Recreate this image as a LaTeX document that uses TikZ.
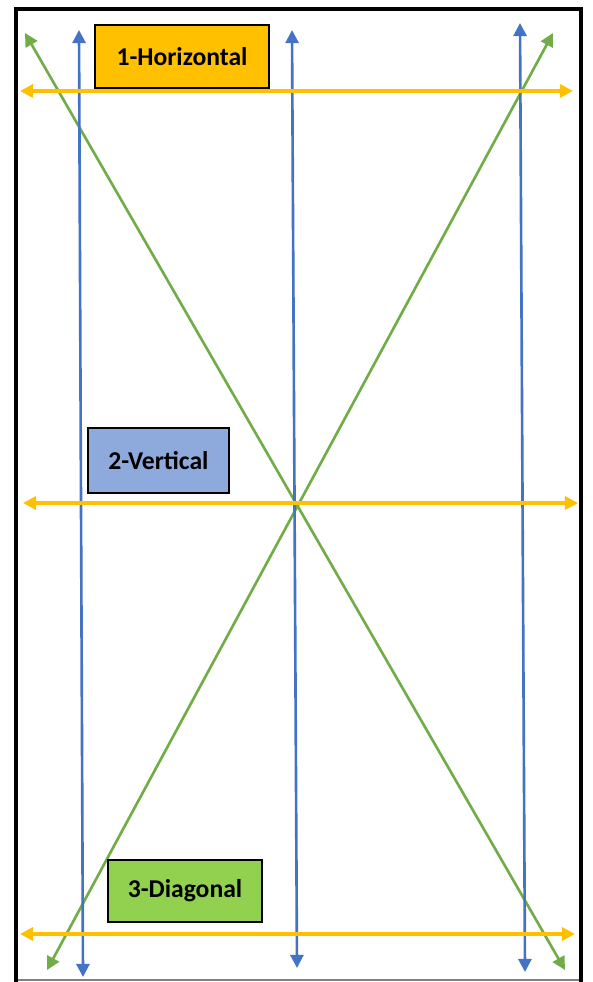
\documentclass[tikz,border=0pt]{standalone}
\usepackage{fontspec}
\setmainfont{Carlito}
\usetikzlibrary{arrows.meta}
\definecolor{hcol}{HTML}{FFC000}
\definecolor{vcol}{HTML}{4472C4}
\definecolor{dcol}{HTML}{70AD47}
\definecolor{vbox}{HTML}{8EA9DB}
\definecolor{dbox}{HTML}{92D050}
\tikzset{>={Triangle[length=7.5pt,width=7.5pt]},
  hline/.style={draw=hcol,line width=1.9pt,<->},
  vline/.style={draw=vcol,line width=1.5pt,<->},
  dline/.style={draw=dcol,line width=1.5pt,<->},
  tag/.style={draw=black,fill=#1,line width=0.6pt,inner sep=0pt,font=\fontsize{14.6}{16}\selectfont\bfseries}}

\begin{document}
\begin{tikzpicture}[x=0.02cm,y=-0.02cm]
            \useasboundingbox (0,0) rectangle (592,982);
            % frame
            \draw[gray,line width=0.6pt] (16,980) -- (581,980);
            \draw[line width=2.8pt] (16,982) -- (16,9) -- (581,9) -- (581,982);
            % horizontal
            \coordinate (n1) at (20,91);
            \coordinate (n2) at (573,91);
            \coordinate (n3) at (23,503);
            \coordinate (n4) at (578,503);
            \coordinate (n5) at (20,934);
            \coordinate (n6) at (575,934);
            % vertical
            \coordinate (n7) at (79,30);
            \coordinate (n8) at (83,977);
            \coordinate (n9) at (292,30);
            \coordinate (n10) at (297,968);
            \coordinate (n11) at (520,23);
            \coordinate (n12) at (525,972);
            % diagonal
            \coordinate (n13) at (25,33);
            \coordinate (n14) at (565,970);
            \coordinate (n15) at (553,33);
            \coordinate (n16) at (47,970);
            \draw[dline] (n13) -- (n14);
            \draw[dline] (n15) -- (n16);
            \draw[vline] (n7) -- (n8);
            \draw[vline] (n9) -- (n10);
            \draw[vline] (n11) -- (n12);
            \draw[hline] (n1) -- (n2);
            \draw[hline] (n3) -- (n4);
            \draw[hline] (n5) -- (n6);
            % labels
            \node[tag=hcol,minimum width=3.48cm,minimum height=1.26cm] (t1) at (182,56.5) {1-Horizontal\hspace{7pt}};
            \node[tag=vbox,minimum width=2.82cm,minimum height=1.3cm] (t2) at (158.5,460.5) {2-Vertical\hspace{5pt}};
            \node[tag=dbox,minimum width=3.08cm,minimum height=1.24cm] (t3) at (185,891) {3-Diagonal\hspace{5pt}};
        \end{tikzpicture}
\end{document}
